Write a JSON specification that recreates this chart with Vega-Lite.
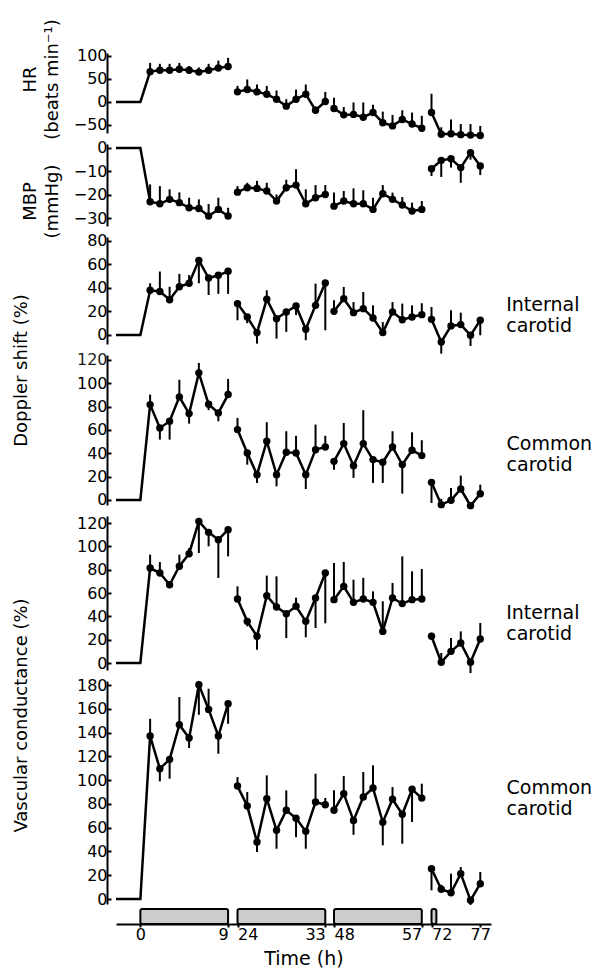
{
  "$schema": "https://vega.github.io/schema/vega-lite/v6.json",
  "background": "white",
  "padding": {"left": 11, "top": 18, "right": 5, "bottom": 2},
  "config": {
    "font": "DejaVu Sans",
    "view": {"stroke": null},
    "axis": {"grid": false, "domainColor": "black", "domainWidth": 2, "tickColor": "black", "tickWidth": 2, "labelColor": "black", "labelFontSize": 16, "labelFont": "DejaVu Sans", "titleFont": "DejaVu Sans", "titleFontSize": 18, "titleFontWeight": "normal", "titleColor": "black", "labelFlush": false, "labelOverlap": false, "labelBound": false},
    "axisY": {"offset": 9, "tickSize": -4, "labelPadding": 4, "titleBaseline": "middle", "titleLineHeight": 22}
  },
  "datasets": {
    "d": [
      {"p":"HR","s":1,"t":-2.5,"v":0},{"p":"HR","s":1,"t":0,"v":0},
      {"p":"HR","s":1,"t":1,"v":66,"e":85},{"p":"HR","s":1,"t":2,"v":69,"e":83},{"p":"HR","s":1,"t":3,"v":69,"e":83},{"p":"HR","s":1,"t":4,"v":71,"e":85},{"p":"HR","s":1,"t":5,"v":69,"e":78},{"p":"HR","s":1,"t":6,"v":65,"e":75},{"p":"HR","s":1,"t":7,"v":69,"e":83},{"p":"HR","s":1,"t":8,"v":74,"e":90},{"p":"HR","s":1,"t":9,"v":77,"e":96},
      {"p":"HR","s":2,"t":24,"v":22,"e":35},{"p":"HR","s":2,"t":25,"v":27,"e":49},{"p":"HR","s":2,"t":26,"v":22,"e":38},{"p":"HR","s":2,"t":27,"v":17,"e":35},{"p":"HR","s":2,"t":28,"v":6,"e":25},{"p":"HR","s":2,"t":29,"v":-9,"e":6},{"p":"HR","s":2,"t":30,"v":6,"e":27},{"p":"HR","s":2,"t":31,"v":17,"e":38},{"p":"HR","s":2,"t":32,"v":-18,"e":-10},{"p":"HR","s":2,"t":33,"v":1,"e":22},
      {"p":"HR","s":3,"t":48,"v":-14,"e":9},{"p":"HR","s":3,"t":49,"v":-28,"e":-11},{"p":"HR","s":3,"t":50,"v":-27,"e":-1},{"p":"HR","s":3,"t":51,"v":-33,"e":-1},{"p":"HR","s":3,"t":52,"v":-23,"e":-6},{"p":"HR","s":3,"t":53,"v":-45,"e":-21},{"p":"HR","s":3,"t":54,"v":-52,"e":-28},{"p":"HR","s":3,"t":55,"v":-38,"e":-18},{"p":"HR","s":3,"t":56,"v":-48,"e":-23},{"p":"HR","s":3,"t":57,"v":-57,"e":-30},
      {"p":"HR","s":4,"t":72,"v":-23,"e":18},{"p":"HR","s":4,"t":73,"v":-70,"e":-55},{"p":"HR","s":4,"t":74,"v":-69,"e":-38},{"p":"HR","s":4,"t":75,"v":-71,"e":-48},{"p":"HR","s":4,"t":76,"v":-72,"e":-48},{"p":"HR","s":4,"t":77,"v":-73,"e":-52},

      {"p":"MBP","s":1,"t":-2.5,"v":0},{"p":"MBP","s":1,"t":0,"v":0},
      {"p":"MBP","s":1,"t":1,"v":-23,"e":-15.6},{"p":"MBP","s":1,"t":2,"v":-23.9,"e":-16.3},{"p":"MBP","s":1,"t":3,"v":-22,"e":-17.7},{"p":"MBP","s":1,"t":4,"v":-23.4,"e":-19},{"p":"MBP","s":1,"t":5,"v":-25.6,"e":-21.3},{"p":"MBP","s":1,"t":6,"v":-25.9,"e":-22},{"p":"MBP","s":1,"t":7,"v":-29.1,"e":-24},{"p":"MBP","s":1,"t":8,"v":-26.3,"e":-21.3},{"p":"MBP","s":1,"t":9,"v":-29.1,"e":-25.6},
      {"p":"MBP","s":2,"t":24,"v":-18.9,"e":-16.3},{"p":"MBP","s":2,"t":25,"v":-17,"e":-14.9},{"p":"MBP","s":2,"t":26,"v":-17.3,"e":-14.1},{"p":"MBP","s":2,"t":27,"v":-18.4,"e":-14.9},{"p":"MBP","s":2,"t":28,"v":-22.7,"e":-19.9},{"p":"MBP","s":2,"t":29,"v":-17,"e":-13.6},{"p":"MBP","s":2,"t":30,"v":-15.9,"e":-9.1},{"p":"MBP","s":2,"t":31,"v":-23.9,"e":-17.7},{"p":"MBP","s":2,"t":32,"v":-21.3,"e":-15.9},{"p":"MBP","s":2,"t":33,"v":-19.9,"e":-15.9},
      {"p":"MBP","s":3,"t":48,"v":-24.9,"e":-19.1},{"p":"MBP","s":3,"t":49,"v":-22.7,"e":-18.4},{"p":"MBP","s":3,"t":50,"v":-23.9,"e":-17.3},{"p":"MBP","s":3,"t":51,"v":-23.9,"e":-18.1},{"p":"MBP","s":3,"t":52,"v":-26.3,"e":-21.3},{"p":"MBP","s":3,"t":53,"v":-19.6,"e":-15.9},{"p":"MBP","s":3,"t":54,"v":-22,"e":-19.1},{"p":"MBP","s":3,"t":55,"v":-24.4,"e":-21},{"p":"MBP","s":3,"t":56,"v":-27,"e":-23.4},{"p":"MBP","s":3,"t":57,"v":-26.3,"e":-22.7},
      {"p":"MBP","s":4,"t":72,"v":-8.9,"e":-12},{"p":"MBP","s":4,"t":73,"v":-5.3,"e":-12.4},{"p":"MBP","s":4,"t":74,"v":-4.6,"e":-8.4},{"p":"MBP","s":4,"t":75,"v":-8.4,"e":-14.9},{"p":"MBP","s":4,"t":76,"v":-2,"e":-5},{"p":"MBP","s":4,"t":77,"v":-7.7,"e":-11.6},

      {"p":"DI","s":1,"t":-2.5,"v":0},{"p":"DI","s":1,"t":0,"v":0},
      {"p":"DI","s":1,"t":1,"v":38,"e":44},{"p":"DI","s":1,"t":2,"v":37,"e":54},{"p":"DI","s":1,"t":3,"v":30,"e":41},{"p":"DI","s":1,"t":4,"v":41,"e":52},{"p":"DI","s":1,"t":5,"v":44,"e":51},{"p":"DI","s":1,"t":6,"v":63.5,"e":44},{"p":"DI","s":1,"t":7,"v":48.5,"e":34},{"p":"DI","s":1,"t":8,"v":50.8,"e":35},{"p":"DI","s":1,"t":9,"v":54.2,"e":35},
      {"p":"DI","s":2,"t":24,"v":26.7,"e":12.5},{"p":"DI","s":2,"t":25,"v":15.3,"e":10},{"p":"DI","s":2,"t":26,"v":2,"e":-7.4},{"p":"DI","s":2,"t":27,"v":30.4,"e":38},{"p":"DI","s":2,"t":28,"v":13.9,"e":-3.1},{"p":"DI","s":2,"t":29,"v":19.6,"e":2.6},{"p":"DI","s":2,"t":30,"v":24.7,"e":17},{"p":"DI","s":2,"t":31,"v":4.8,"e":-4.5},{"p":"DI","s":2,"t":32,"v":25.2,"e":43.7},{"p":"DI","s":2,"t":33,"v":44.3,"e":4},
      {"p":"DI","s":3,"t":48,"v":20.1,"e":29.5},{"p":"DI","s":3,"t":49,"v":30.9,"e":40.9},{"p":"DI","s":3,"t":50,"v":19,"e":28},{"p":"DI","s":3,"t":51,"v":22.4,"e":36.6},{"p":"DI","s":3,"t":52,"v":14.5,"e":25.2},{"p":"DI","s":3,"t":53,"v":2,"e":11},{"p":"DI","s":3,"t":54,"v":19.6,"e":28},{"p":"DI","s":3,"t":55,"v":13,"e":26.7},{"p":"DI","s":3,"t":56,"v":15.3,"e":25.2},{"p":"DI","s":3,"t":57,"v":17.3,"e":27},
      {"p":"DI","s":4,"t":72,"v":13.3,"e":23.8},{"p":"DI","s":4,"t":73,"v":-6,"e":-15.9},{"p":"DI","s":4,"t":74,"v":7.7,"e":21},{"p":"DI","s":4,"t":75,"v":8.8,"e":19},{"p":"DI","s":4,"t":76,"v":-0.3,"e":-9.4},{"p":"DI","s":4,"t":77,"v":12.5,"e":-0.3},

      {"p":"DC","s":1,"t":-2.5,"v":0},{"p":"DC","s":1,"t":0,"v":0},
      {"p":"DC","s":1,"t":1,"v":81.7,"e":90.3},{"p":"DC","s":1,"t":2,"v":61.7,"e":51.7},{"p":"DC","s":1,"t":3,"v":67.4,"e":51.7},{"p":"DC","s":1,"t":4,"v":88.3,"e":103},{"p":"DC","s":1,"t":5,"v":74,"e":65.4},{"p":"DC","s":1,"t":6,"v":108.9,"e":117.4},{"p":"DC","s":1,"t":7,"v":82,"e":77},{"p":"DC","s":1,"t":8,"v":74.6,"e":67.4},{"p":"DC","s":1,"t":9,"v":90.3,"e":103.7},
      {"p":"DC","s":2,"t":24,"v":60.3,"e":70.3},{"p":"DC","s":2,"t":25,"v":40.3,"e":30.3},{"p":"DC","s":2,"t":26,"v":21.7,"e":14.6},{"p":"DC","s":2,"t":27,"v":50.3,"e":66.6},{"p":"DC","s":2,"t":28,"v":21.7,"e":11.7},{"p":"DC","s":2,"t":29,"v":40.9,"e":58.9},{"p":"DC","s":2,"t":30,"v":40.3,"e":55},{"p":"DC","s":2,"t":31,"v":21.7,"e":9.4},{"p":"DC","s":2,"t":32,"v":43.1,"e":64.6},{"p":"DC","s":2,"t":33,"v":45.4,"e":55},
      {"p":"DC","s":3,"t":48,"v":33.1,"e":26},{"p":"DC","s":3,"t":49,"v":48.3,"e":66},{"p":"DC","s":3,"t":50,"v":29.4,"e":18.9},{"p":"DC","s":3,"t":51,"v":48.3,"e":76.9},{"p":"DC","s":3,"t":52,"v":34.6,"e":14.6},{"p":"DC","s":3,"t":53,"v":32.3,"e":14.6},{"p":"DC","s":3,"t":54,"v":45.4,"e":58.9},{"p":"DC","s":3,"t":55,"v":30.3,"e":5.4},{"p":"DC","s":3,"t":56,"v":42.6,"e":58},{"p":"DC","s":3,"t":57,"v":38,"e":51.2},
      {"p":"DC","s":4,"t":72,"v":15.1,"e":-2.6},{"p":"DC","s":4,"t":73,"v":-4,"e":1},{"p":"DC","s":4,"t":74,"v":-0.3,"e":10.3},{"p":"DC","s":4,"t":75,"v":9.4,"e":20.9},{"p":"DC","s":4,"t":76,"v":-4.9,"e":-6.9},{"p":"DC","s":4,"t":77,"v":5.4,"e":13.1},

      {"p":"VI","s":1,"t":-2.5,"v":0},{"p":"VI","s":1,"t":0,"v":0},
      {"p":"VI","s":1,"t":1,"v":81.4,"e":92.9},{"p":"VI","s":1,"t":2,"v":77.1,"e":86.6},{"p":"VI","s":1,"t":3,"v":67.1,"e":70},{"p":"VI","s":1,"t":4,"v":82.9,"e":92.9},{"p":"VI","s":1,"t":5,"v":93.7,"e":98.6},{"p":"VI","s":1,"t":6,"v":121.4,"e":94.3},{"p":"VI","s":1,"t":7,"v":112,"e":100},{"p":"VI","s":1,"t":8,"v":105.7,"e":72.9},{"p":"VI","s":1,"t":9,"v":114.3,"e":91.4},
      {"p":"VI","s":2,"t":24,"v":54.9,"e":65.7},{"p":"VI","s":2,"t":25,"v":35.7,"e":31.4},{"p":"VI","s":2,"t":26,"v":22.9,"e":11.4},{"p":"VI","s":2,"t":27,"v":57.7,"e":74.9},{"p":"VI","s":2,"t":28,"v":48,"e":74.3},{"p":"VI","s":2,"t":29,"v":42.3,"e":21.4},{"p":"VI","s":2,"t":30,"v":48.6,"e":56},{"p":"VI","s":2,"t":31,"v":35.7,"e":22},{"p":"VI","s":2,"t":32,"v":55.7,"e":30},{"p":"VI","s":2,"t":33,"v":77.1,"e":34},
      {"p":"VI","s":3,"t":48,"v":54.3,"e":85.7},{"p":"VI","s":3,"t":49,"v":65.7,"e":86.6},{"p":"VI","s":3,"t":50,"v":52,"e":71.4},{"p":"VI","s":3,"t":51,"v":54.9,"e":73},{"p":"VI","s":3,"t":52,"v":52,"e":61.4},{"p":"VI","s":3,"t":53,"v":27.1,"e":52.9},{"p":"VI","s":3,"t":54,"v":55.7,"e":68.6},{"p":"VI","s":3,"t":55,"v":50.9,"e":91.4},{"p":"VI","s":3,"t":56,"v":54.3,"e":78.6},{"p":"VI","s":3,"t":57,"v":54.9,"e":80.6},
      {"p":"VI","s":4,"t":72,"v":22.9,"e":26},{"p":"VI","s":4,"t":73,"v":0.6,"e":8.6},{"p":"VI","s":4,"t":74,"v":10,"e":21.4},{"p":"VI","s":4,"t":75,"v":17.1,"e":27.1},{"p":"VI","s":4,"t":76,"v":0.6,"e":-8.6},{"p":"VI","s":4,"t":77,"v":20.6,"e":34.3},

      {"p":"VC","s":1,"t":-2.5,"v":0},{"p":"VC","s":1,"t":0,"v":0},
      {"p":"VC","s":1,"t":1,"v":137.1,"e":151.6},{"p":"VC","s":1,"t":2,"v":109.6,"e":99},{"p":"VC","s":1,"t":3,"v":117.5,"e":101.2},{"p":"VC","s":1,"t":4,"v":146.6,"e":169.9},{"p":"VC","s":1,"t":5,"v":135.4,"e":127},{"p":"VC","s":1,"t":6,"v":180.2,"e":155},{"p":"VC","s":1,"t":7,"v":159.5,"e":176.9},{"p":"VC","s":1,"t":8,"v":137.1,"e":122.2},{"p":"VC","s":1,"t":9,"v":164.3,"e":147.4},
      {"p":"VC","s":2,"t":24,"v":95,"e":102.6},{"p":"VC","s":2,"t":25,"v":78.2,"e":90},{"p":"VC","s":2,"t":26,"v":47.9,"e":39.5},{"p":"VC","s":2,"t":27,"v":84.4,"e":104},{"p":"VC","s":2,"t":28,"v":57.8,"e":42.3},{"p":"VC","s":2,"t":29,"v":74.6,"e":91.4},{"p":"VC","s":2,"t":30,"v":68,"e":52},{"p":"VC","s":2,"t":31,"v":56.9,"e":42.3},{"p":"VC","s":2,"t":32,"v":81.6,"e":105.4},{"p":"VC","s":2,"t":33,"v":79.3,"e":85},
      {"p":"VC","s":3,"t":48,"v":74.6,"e":91.4},{"p":"VC","s":3,"t":49,"v":88.6,"e":103.4},{"p":"VC","s":3,"t":50,"v":66,"e":54},{"p":"VC","s":3,"t":51,"v":85.8,"e":106.8},{"p":"VC","s":3,"t":52,"v":93.4,"e":112.4},{"p":"VC","s":3,"t":53,"v":64.5,"e":45.2},{"p":"VC","s":3,"t":54,"v":83.9,"e":94.2},{"p":"VC","s":3,"t":55,"v":71.3,"e":46.5},{"p":"VC","s":3,"t":56,"v":92.3,"e":64.8},{"p":"VC","s":3,"t":57,"v":84.9,"e":97},
      {"p":"VC","s":4,"t":72,"v":25.5,"e":7.3},{"p":"VC","s":4,"t":73,"v":8.2,"e":12},{"p":"VC","s":4,"t":74,"v":5.3,"e":21.3},{"p":"VC","s":4,"t":75,"v":21.3,"e":26.9},{"p":"VC","s":4,"t":76,"v":-1.1,"e":-5},{"p":"VC","s":4,"t":77,"v":12.9,"e":22.7}
    ],
    "bars": [
      {"start": 0, "end": 9}, {"start": 24, "end": 33}, {"start": 48, "end": 57}, {"start": 72, "end": 72.5}
    ]
  },
  "spacing": 0,
  "vconcat": [
    {
      "spacing": 11,
      "bounds": "flush",
      "vconcat": [
        {
          "width": 375, "height": 80,
          "data": {"name": "d"},
          "transform": [{"filter": "datum.p == 'HR'"}],
          "encoding": {
            "x": {"field": "t", "type": "quantitative", "axis": null, "scale": {"domain": [-2.5, 9, 24, 33, 48, 57, 72, 78.1], "range": [0, 112.1, 121.5, 209.3, 218, 305.8, 315.5, 375], "nice": false, "zero": false}},
            "y": {"field": "v", "type": "quantitative", "scale": {"domain": [-67.4, 106.5], "nice": false, "zero": false}, "axis": {"values": [-50, 0, 50, 100], "title": ["HR", "(beats min⁻¹)"], "titleX": -77, "titleY": 26}}
          },
          "layer": [
            {"transform": [{"filter": "isValid(datum.e)"}], "mark": {"type": "rule", "strokeWidth": 2, "color": "black"}, "encoding": {"y2": {"field": "e"}}},
            {"mark": {"type": "line", "strokeWidth": 2.5, "color": "black"}, "encoding": {"detail": {"field": "s"}}},
            {"transform": [{"filter": "datum.t > 0"}], "mark": {"type": "point", "filled": true, "size": 55, "color": "black", "opacity": 1}, "encoding": {}}
          ]
        },
        {
          "width": 375, "height": 82,
          "data": {"name": "d"},
          "transform": [{"filter": "datum.p == 'MBP'"}],
          "encoding": {
            "x": {"field": "t", "type": "quantitative", "axis": null, "scale": {"domain": [-2.5, 9, 24, 33, 48, 57, 72, 78.1], "range": [0, 112.1, 121.5, 209.3, 218, 305.8, 315.5, 375], "nice": false, "zero": false}},
            "y": {"field": "v", "type": "quantitative", "scale": {"domain": [-33.4, 1.7], "nice": false, "zero": false}, "axis": {"values": [-30, -20, -10, 0], "title": ["MBP", "(mmHg)"], "titleX": -77, "titleY": 57}}
          },
          "layer": [
            {"transform": [{"filter": "isValid(datum.e)"}], "mark": {"type": "rule", "strokeWidth": 2, "color": "black"}, "encoding": {"y2": {"field": "e"}}},
            {"mark": {"type": "line", "strokeWidth": 2.5, "color": "black"}, "encoding": {"detail": {"field": "s"}}},
            {"transform": [{"filter": "datum.t > 0"}], "mark": {"type": "point", "filled": true, "size": 55, "color": "black", "opacity": 1}, "encoding": {}}
          ]
        },
        {
          "width": 375, "height": 107,
          "title": {"text": ["Internal", "carotid"], "orient": "right", "angle": 0, "align": "left", "baseline": "middle", "anchor": "middle", "offset": -58, "dy": 14.5, "fontSize": 19, "fontWeight": "normal", "color": "black", "font": "DejaVu Sans", "lineHeight": 21},
          "data": {"name": "d"},
          "transform": [{"filter": "datum.p == 'DI'"}],
          "encoding": {
            "x": {"field": "t", "type": "quantitative", "axis": null, "scale": {"domain": [-2.5, 9, 24, 33, 48, 57, 72, 78.1], "range": [0, 112.1, 121.5, 209.3, 218, 305.8, 315.5, 375], "nice": false, "zero": false}},
            "y": {"field": "v", "type": "quantitative", "scale": {"domain": [-7.7, 83.4], "nice": false, "zero": false}, "axis": {"values": [0, 20, 40, 60, 80], "title": "Doppler shift (%)", "titleX": -86, "titleY": 133}}
          },
          "layer": [
            {"transform": [{"filter": "isValid(datum.e)"}], "mark": {"type": "rule", "strokeWidth": 2, "color": "black"}, "encoding": {"y2": {"field": "e"}}},
            {"mark": {"type": "line", "strokeWidth": 2.5, "color": "black"}, "encoding": {"detail": {"field": "s"}}},
            {"transform": [{"filter": "datum.t > 0"}], "mark": {"type": "point", "filled": true, "size": 55, "color": "black", "opacity": 1}, "encoding": {}}
          ]
        },
        {
          "width": 375, "height": 150,
          "title": {"text": ["Common", "carotid"], "orient": "right", "angle": 0, "align": "left", "baseline": "middle", "anchor": "middle", "offset": -70, "dy": 14, "fontSize": 19, "fontWeight": "normal", "color": "black", "font": "DejaVu Sans", "lineHeight": 21},
          "data": {"name": "d"},
          "transform": [{"filter": "datum.p == 'DC'"}],
          "encoding": {
            "x": {"field": "t", "type": "quantitative", "axis": null, "scale": {"domain": [-2.5, 9, 24, 33, 48, 57, 72, 78.1], "range": [0, 112.1, 121.5, 209.3, 218, 305.8, 315.5, 375], "nice": false, "zero": false}},
            "y": {"field": "v", "type": "quantitative", "scale": {"domain": [-4.3, 124.2], "nice": false, "zero": false}, "axis": {"values": [0, 20, 40, 60, 80, 100, 120], "title": "", "titleX": -86, "titleY": 20, "labelColor": {"condition": {"test": "datum.value == 120", "value": "#1c1c1c"}, "value": "black"}}}
          },
          "layer": [
            {"transform": [{"filter": "isValid(datum.e)"}], "mark": {"type": "rule", "strokeWidth": 2, "color": "black"}, "encoding": {"y2": {"field": "e"}}},
            {"mark": {"type": "line", "strokeWidth": 2.5, "color": "black"}, "encoding": {"detail": {"field": "s"}}},
            {"transform": [{"filter": "datum.t > 0"}], "mark": {"type": "point", "filled": true, "size": 55, "color": "black", "opacity": 1}, "encoding": {}}
          ]
        },
        {
          "width": 375, "height": 154,
          "title": {"text": ["Internal", "carotid"], "orient": "right", "angle": 0, "align": "left", "baseline": "middle", "anchor": "middle", "offset": -58, "dy": 19.5, "fontSize": 19, "fontWeight": "normal", "color": "black", "font": "DejaVu Sans", "lineHeight": 21},
          "data": {"name": "d"},
          "transform": [{"filter": "datum.p == 'VI'"}],
          "encoding": {
            "x": {"field": "t", "type": "quantitative", "axis": null, "scale": {"domain": [-2.5, 9, 24, 33, 48, 57, 72, 78.1], "range": [0, 112.1, 121.5, 209.3, 218, 305.8, 315.5, 375], "nice": false, "zero": false}},
            "y": {"field": "v", "type": "quantitative", "scale": {"domain": [-6, 126], "nice": false, "zero": false}, "axis": {"values": [0, 20, 40, 60, 80, 100, 120], "title": "Vascular conductance (%)", "titleX": -86, "titleY": 199}}
          },
          "layer": [
            {"transform": [{"filter": "isValid(datum.e)"}], "mark": {"type": "rule", "strokeWidth": 2, "color": "black"}, "encoding": {"y2": {"field": "e"}}},
            {"mark": {"type": "line", "strokeWidth": 2.5, "color": "black"}, "encoding": {"detail": {"field": "s"}}},
            {"transform": [{"filter": "datum.t > 0"}], "mark": {"type": "point", "filled": true, "size": 55, "color": "black", "opacity": 1}, "encoding": {}}
          ]
        },
        {
          "width": 375, "height": 223,
          "title": {"text": ["Common", "carotid"], "orient": "right", "angle": 0, "align": "left", "baseline": "middle", "anchor": "middle", "offset": -70, "dy": -4.5, "fontSize": 19, "fontWeight": "normal", "color": "black", "font": "DejaVu Sans", "lineHeight": 21},
          "data": {"name": "d"},
          "transform": [{"filter": "datum.p == 'VC'"}],
          "encoding": {
            "x": {"field": "t", "type": "quantitative", "axis": null, "scale": {"domain": [-2.5, 9, 24, 33, 48, 57, 72, 78.1], "range": [0, 112.1, 121.5, 209.3, 218, 305.8, 315.5, 375], "nice": false, "zero": false}},
            "y": {"field": "v", "type": "quantitative", "scale": {"domain": [-4.2, 183.4], "nice": false, "zero": false}, "axis": {"values": [0, 20, 40, 60, 80, 100, 120, 140, 160, 180], "title": null}}
          },
          "layer": [
            {"transform": [{"filter": "isValid(datum.e)"}], "mark": {"type": "rule", "strokeWidth": 2, "color": "black"}, "encoding": {"y2": {"field": "e"}}},
            {"mark": {"type": "line", "strokeWidth": 2.5, "color": "black"}, "encoding": {"detail": {"field": "s"}}},
            {"transform": [{"filter": "datum.t > 0"}], "mark": {"type": "point", "filled": true, "size": 55, "color": "black", "opacity": 1}, "encoding": {}}
          ]
        }
      ]
    },
    {
      "width": 375, "height": 15,
      "data": {"name": "bars"},
      "mark": {"type": "rect", "fill": "#cccccc", "stroke": "black", "strokeWidth": 2, "cornerRadius": 2},
      "encoding": {
        "x": {"field": "start", "type": "quantitative", "scale": {"domain": [-2.5, 9, 24, 33, 48, 57, 72, 78.1], "range": [0, 112.1, 121.5, 209.3, 218, 305.8, 315.5, 375], "nice": false, "zero": false},
          "axis": {"values": [0, 9, 24, 33, 48, 57, 72, 77], "title": "Time (h)", "titleFontSize": 19, "titlePadding": 7, "tickSize": 3, "labelPadding": -1,
            "labelAlign": {"condition": [{"test": "indexof([9,33,57], datum.value) >= 0", "value": "right"}, {"test": "indexof([24,48,72], datum.value) >= 0", "value": "left"}], "value": "center"}}},
        "x2": {"field": "end"}
      }
    }
  ]
}
